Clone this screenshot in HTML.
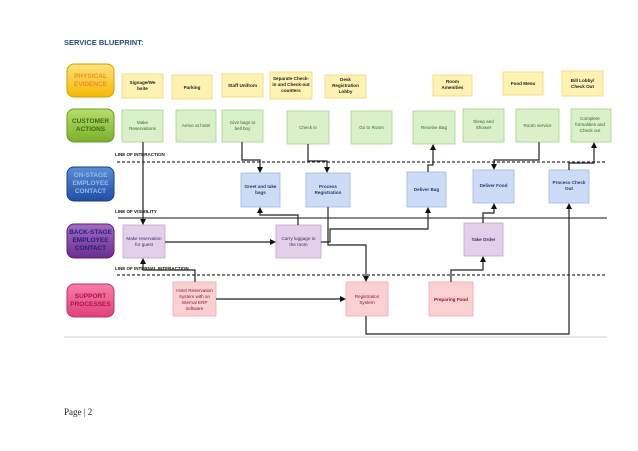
<!DOCTYPE html>
<html><head><meta charset="utf-8"><style>
html,body{margin:0;padding:0;background:#fff;}
svg{display:block;}
text{font-family:"Liberation Sans",sans-serif;}
</style></head><body>
<svg width="638" height="451" viewBox="0 0 638 451" xmlns="http://www.w3.org/2000/svg">
<defs>
<marker id="a" markerWidth="6" markerHeight="6" refX="3" refY="3" orient="auto" markerUnits="userSpaceOnUse"><path d="M0,0 L6,3 L0,6 z" fill="#111"/></marker>
<linearGradient id="gy" x1="0" y1="0" x2="0" y2="1"><stop offset="0" stop-color="#fde37a"/><stop offset="1" stop-color="#f5b800"/></linearGradient>
<linearGradient id="gg" x1="0" y1="0" x2="0" y2="1"><stop offset="0" stop-color="#b7de6a"/><stop offset="1" stop-color="#7bb02c"/></linearGradient>
<linearGradient id="gb" x1="0" y1="0" x2="0" y2="1"><stop offset="0" stop-color="#5a8fd6"/><stop offset="1" stop-color="#1f4ea3"/></linearGradient>
<linearGradient id="gp" x1="0" y1="0" x2="0" y2="1"><stop offset="0" stop-color="#a56cc4"/><stop offset="1" stop-color="#6a2d8e"/></linearGradient>
<linearGradient id="gk" x1="0" y1="0" x2="0" y2="1"><stop offset="0" stop-color="#f77ea5"/><stop offset="1" stop-color="#e0427a"/></linearGradient>
</defs>
<text x="64" y="45" font-size="7.5" font-weight="bold" fill="#2a4a80">SERVICE BLUEPRINT:</text>

<g font-size="6.5" font-weight="bold" text-anchor="middle">
<rect x="67" y="64" width="47" height="33" rx="7" fill="url(#gy)" stroke="#d89a00"/>
<text x="90.5" y="78" fill="#ef8a30">PHYSICAL</text><text x="90.5" y="86" fill="#ef8a30">EVIDENCE</text>
<rect x="67" y="109" width="47" height="33" rx="7" fill="url(#gg)" stroke="#6a9a25"/>
<text x="90.5" y="123" fill="#3d6a10">CUSTOMER</text><text x="90.5" y="131" fill="#3d6a10">ACTIONS</text>
<rect x="67" y="167" width="47" height="34" rx="7" fill="url(#gb)" stroke="#1a3f85"/>
<text x="90.5" y="177" fill="#9ab8ec">ON-STAGE</text><text x="90.5" y="185" fill="#9ab8ec">EMPLOYEE</text><text x="90.5" y="193" fill="#9ab8ec">CONTACT</text>
<rect x="67" y="224" width="47" height="34" rx="7" fill="url(#gp)" stroke="#5a2278"/>
<text x="90.5" y="234" fill="#1f1f7a">BACK-STAGE</text><text x="90.5" y="242" fill="#1f1f7a">EMPLOYEE</text><text x="90.5" y="250" fill="#1f1f7a">CONTACT</text>
<rect x="67" y="284" width="47" height="33" rx="7" fill="url(#gk)" stroke="#c23366"/>
<text x="90.5" y="298" fill="#b01050">SUPPORT</text><text x="90.5" y="306" fill="#b01050">PROCESSES</text>
</g>

<g font-size="4.5" font-weight="bold" fill="#111">
<text x="115" y="156">LINE OF INTERACTION</text>
<text x="115" y="213">LINE OF VISIBILITY</text>
<text x="115" y="270">LINE OF INTERNAL INTERACTION</text>
</g>
<line x1="117" y1="162" x2="607" y2="162" stroke="#333" stroke-width="1.3" stroke-dasharray="3,2"/>
<line x1="118" y1="218" x2="607" y2="218" stroke="#444" stroke-width="1.2"/>
<line x1="117" y1="275" x2="607" y2="275" stroke="#333" stroke-width="1.3" stroke-dasharray="3,2"/>
<line x1="64" y1="337" x2="607" y2="337" stroke="#ccc" stroke-width="1"/>

<g font-size="4.6" text-anchor="middle" fill="#222">
<g fill="#fff2b3" stroke="#f0d675" stroke-width="0.8">
<rect x="122" y="74" width="41" height="24"/><rect x="172" y="75" width="40" height="24"/><rect x="222" y="74" width="41" height="23"/><rect x="270" y="72" width="42" height="27"/><rect x="325" y="75" width="41" height="23"/><rect x="433" y="75" width="39" height="21"/><rect x="503" y="72" width="40" height="23"/><rect x="562" y="71" width="41" height="25"/>
</g>
<g font-weight="bold">
<text x="142.5" y="84">Signage/We</text><text x="142.5" y="90">bsite</text>
<text x="192" y="89">Parking</text>
<text x="242.5" y="87">Staff Unifrom</text>
<text x="291" y="80">Separate Check-</text><text x="291" y="86">in and Check-out</text><text x="291" y="92">counters</text>
<text x="345.5" y="81">Desk</text><text x="345.5" y="87">Registration</text><text x="345.5" y="93">Lobby</text>
<text x="452.5" y="83">Room</text><text x="452.5" y="89">Amenities</text>
<text x="523" y="85">Food Menu</text>
<text x="582.5" y="82">Bill Lobby/</text><text x="582.5" y="88">Check Out</text>
</g>
<g fill="#daf0c8" stroke="#a7d38a" stroke-width="0.8">
<rect x="122" y="110" width="41" height="32"/><rect x="176" y="110" width="40" height="32"/><rect x="222" y="110" width="41" height="32"/><rect x="287" y="111" width="42" height="33"/><rect x="351" y="111" width="41" height="33"/><rect x="413" y="111" width="42" height="33"/><rect x="463" y="109" width="41" height="33"/><rect x="516" y="109" width="43" height="33"/><rect x="571" y="109" width="40" height="33"/>
</g>
<g fill="#3a6a20">
<text x="142.5" y="124">Make</text><text x="142.5" y="130">Reservations</text>
<text x="196" y="127">Arrive at hotel</text>
<text x="242.5" y="124">Give bags to</text><text x="242.5" y="130">bell boy</text>
<text x="308" y="129">Check in</text>
<text x="371.5" y="129">Go to Room</text>
<text x="434" y="129">Receive Bag</text>
<text x="483.5" y="123">Sleep and</text><text x="483.5" y="129">Shower</text>
<text x="537.5" y="127">Room service</text>
<text x="590" y="120">Complete</text><text x="590" y="126">formalities and</text><text x="590" y="132">Check out</text>
</g>
<g fill="#cddcf6" stroke="#9db8e6" stroke-width="0.8">
<rect x="241" y="173" width="39" height="34"/><rect x="306" y="173" width="44" height="34"/><rect x="407" y="172" width="39" height="35"/><rect x="473" y="170" width="41" height="33"/><rect x="549" y="170" width="40" height="33"/>
</g>
<g fill="#1e3a78" font-weight="bold">
<text x="260.5" y="188">Greet and take</text><text x="260.5" y="194">bags</text>
<text x="328" y="188">Process</text><text x="328" y="194">Registration</text>
<text x="426.5" y="191">Deliver Bag</text>
<text x="493.5" y="187">Deliver Food</text>
<text x="569" y="184">Process Check</text><text x="569" y="190">Out</text>
</g>
<g fill="#e2d0ea" stroke="#c0a5d2" stroke-width="0.8">
<rect x="123" y="225" width="42" height="33"/><rect x="276" y="225" width="45" height="33"/><rect x="464" y="223" width="39" height="33"/>
</g>
<g fill="#3a2a60">
<text x="144" y="240">Make reservation</text><text x="144" y="246">for guest</text>
<text x="298.5" y="240">Carry luggage to</text><text x="298.5" y="246">the room</text>
<text x="483.5" y="241" font-weight="bold">Take Order</text>
</g>
<g fill="#fbd0d3" stroke="#f1a7ad" stroke-width="0.8">
<rect x="173" y="282" width="43" height="34"/><rect x="346" y="282" width="42" height="34"/><rect x="429" y="282" width="44" height="34"/>
</g>
<g fill="#8a1a2a">
<text x="194.5" y="292">Hotel Reservation</text><text x="194.5" y="298">System with an</text><text x="194.5" y="304">internal ERP</text><text x="194.5" y="310">software</text>
<text x="367" y="298">Registration</text><text x="367" y="304">System</text>
<text x="451" y="301" font-weight="bold">Preparing Food</text>
</g>
</g>

<g fill="none" stroke="#222" stroke-width="1.2" marker-end="url(#a)">
<polyline points="143,142 143,222"/>
<polyline points="195,282 195,270 143,270 143,261"/>
<polyline points="165,242 273,242"/>
<polyline points="216,299 343,299"/>
<polyline points="242,142 242,160 260,160 260,170"/>
<polyline points="308,144 308,161 327,161 327,170"/>
<polyline points="298,225 298,215 260,215 260,210"/>
<polyline points="328,207 328,245 366,245 366,279"/>
<polyline points="321,242 330,242 330,229 428,229 428,210"/>
<polyline points="366,316 366,334 569,334 569,206"/>
<polyline points="539,142 539,160 494,160 494,167"/>
<polyline points="569,170 569,163 594,163 594,145"/>
<polyline points="428,172 428,165 433,165 433,147"/>
<polyline points="483,223 483,213 494,213 494,206"/>
<polyline points="451,282 451,270 483,270 483,259"/>
</g>

<text x="64" y="415" font-size="9" style="font-family:'Liberation Serif',serif" fill="#222">Page | 2</text>
</svg>
</body></html>
